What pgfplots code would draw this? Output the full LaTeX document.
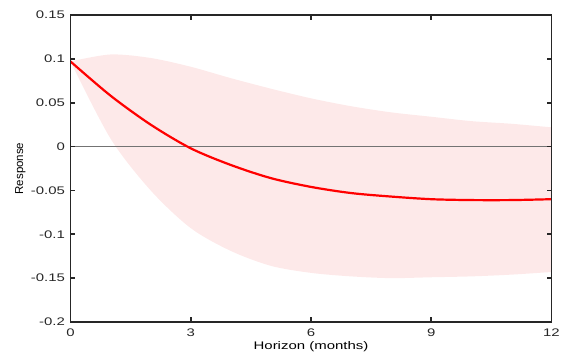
\documentclass[border=0pt]{standalone}
\usepackage{pgfplots}
\pgfplotsset{compat=1.18}
\usepackage{fontspec}
\setmainfont{Liberation Sans}[FakeStretch=1.36]
\newfontfamily\plainfont{Liberation Sans}
\definecolor{band}{RGB}{253,233,233}
\definecolor{axcol}{RGB}{38,38,38}
\begin{document}
\begin{tikzpicture}
\useasboundingbox (-70.5pt,-31pt) rectangle (492.5pt,322pt);
\begin{axis}[
  at={(0,0)}, anchor=south west,
  scale only axis, width=481pt, height=307pt,
  xmin=0, xmax=12, ymin=-0.2, ymax=0.15,
  xtick={0,3,6,9,12},
  ytick={-0.2,-0.15,-0.1,-0.05,0,0.05,0.1,0.15},
  yticklabels={-0.2,-0.15,-0.1,-0.05,0,0.05,0.1,0.15},
  tick align=inside, major tick length=5pt,
  axis line style={axcol, line width=1.6pt},
  every tick/.style={axcol, line width=1.6pt},
  tick label style={font=\fontsize{11}{13}\selectfont, text=axcol},
  /pgf/number format/assume math mode=true,
  xticklabel style={anchor=center, yshift=-11pt},
  yticklabel style={anchor=east, xshift=-2pt},
  xlabel={Horizon (months)}, ylabel={\plainfont Response},
  xlabel style={font=\fontsize{11}{13}\selectfont, at={(axis description cs:0.5,0)}, anchor=center, yshift=-25pt},
  ylabel style={font=\fontsize{11.5}{13}\selectfont, at={(axis description cs:-0.104,0.5)}, anchor=center},
  axis on top,
]
% band: upper bound left to right, then lower bound right to left (points at 13 lie outside the axis and are clipped)
\addplot[draw=none, fill=band, smooth, tension=0.5] coordinates {
(0,0.097) (1,0.105) (2,0.101) (3,0.091) (4,0.078) (5,0.066) (6,0.055) (7,0.046) (8,0.039) (9,0.034) (10,0.029) (11,0.026) (12,0.022) (13,0.019)
(13,-0.140) (12,-0.143) (11,-0.146) (10,-0.148) (9,-0.149) (8,-0.150) (7,-0.148) (6,-0.144) (5,-0.136) (4,-0.119) (3,-0.093) (2,-0.050) (1,0.009) (0,0.097)
};
\addplot[color=gray!90!black, line width=1pt] coordinates {(0,0) (12,0)};
\addplot[red, line width=2.2pt, smooth, tension=0.5] coordinates {
(0,0.097) (1,0.058) (2,0.025) (3,-0.002) (4,-0.021) (5,-0.036) (6,-0.046) (7,-0.053) (8,-0.057) (9,-0.060) (10,-0.061) (11,-0.061) (12,-0.060)
};
\end{axis}
\end{tikzpicture}
\end{document}
